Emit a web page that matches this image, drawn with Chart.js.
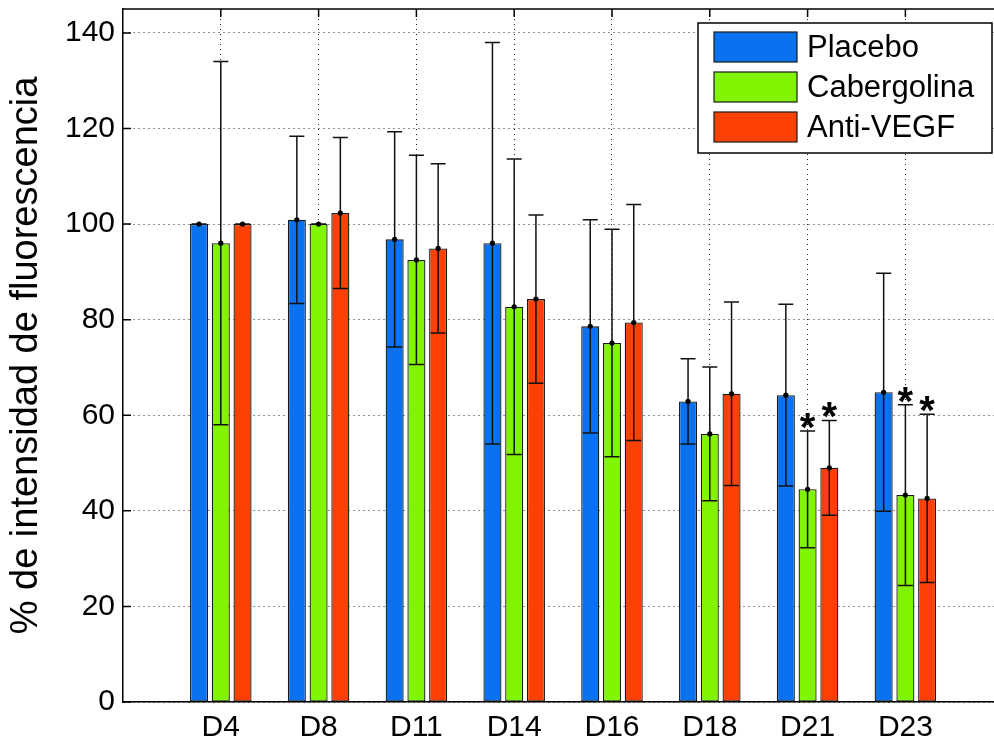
<!DOCTYPE html>
<html>
<head>
<meta charset="utf-8">
<script src="https://cdn.jsdelivr.net/npm/chart.js@4.4.1/dist/chart.umd.min.js"></script>
<style>
  html, body { margin: 0; padding: 0; background: #fff; overflow: hidden; }
  #wrap { position: relative; width: 994px; height: 742px; }
</style>
</head>
<body>
<div id="wrap"><canvas id="c"></canvas></div>
<script>
// Days of measurement
const categories = ['D4', 'D8', 'D11', 'D14', 'D16', 'D18', 'D21', 'D23'];

// Mean fluorescence intensity (%) and standard deviation per group
const placebo       = [100.0, 100.9, 96.8, 96.0, 78.6, 62.9, 64.2, 64.8];
const placeboSD     = [0.0, 17.5, 22.5, 42.0, 22.3, 8.9, 19.0, 24.9];
const cabergolina   = [96.0, 100.0, 92.5, 82.7, 75.1, 56.1, 44.5, 43.3];
const cabergolinaSD = [38.0, 0.0, 21.9, 30.9, 23.8, 14.0, 12.2, 18.9];
const antiVegf      = [100.0, 102.3, 94.9, 84.3, 79.4, 64.5, 49.0, 42.6];
const antiVegfSD    = [0.0, 15.8, 17.7, 17.6, 24.7, 19.2, 9.9, 17.6];

// Significant differences versus placebo (marked with *)
const placeboSig     = [0, 0, 0, 0, 0, 0, 0, 0];
const cabergolinaSig = [0, 0, 0, 0, 0, 0, 1, 1];
const antiVegfSig    = [0, 0, 0, 0, 0, 0, 1, 1];

// Y axis tick values
const yTicks = [0, 20, 40, 60, 80, 100, 120, 140];

const FONT = "'Liberation Sans', Arial, Helvetica, sans-serif";

function points(values) {
  return values.map((v, i) => ({ x: i + 1, y: v }));
}

// Whiskers with caps, a dot at the mean and significance stars
const errorBars = {
  id: 'errorBars',
  afterDatasetsDraw(chart) {
    const ctx = chart.ctx;
    const yScale = chart.scales.y;
    chart.data.datasets.forEach((ds, di) => {
      const meta = chart.getDatasetMeta(di);
      meta.data.forEach((bar, i) => {
        const m = ds.data[i].y;
        const e = ds.errors[i];
        const x = bar.x;
        const yTop = yScale.getPixelForValue(m + e);
        const yBot = yScale.getPixelForValue(m - e);
        const yMid = yScale.getPixelForValue(m);
        const cap = 7.5;
        ctx.save();
        ctx.strokeStyle = '#111';
        ctx.lineWidth = 1.5;
        ctx.beginPath();
        ctx.moveTo(x, yTop); ctx.lineTo(x, yBot);
        ctx.moveTo(x - cap, yTop); ctx.lineTo(x + cap, yTop);
        ctx.moveTo(x - cap, yBot); ctx.lineTo(x + cap, yBot);
        ctx.stroke();
        ctx.fillStyle = '#000';
        ctx.beginPath();
        ctx.arc(x, yMid, 2.6, 0, Math.PI * 2);
        ctx.fill();
        if (ds.significant[i]) {
          ctx.font = 'bold 40px ' + FONT;
          ctx.textAlign = 'center';
          ctx.textBaseline = 'alphabetic';
          ctx.fillText('*', x, yTop + 10);
        }
        ctx.restore();
      });
    });
  }
};

// Top frame line, inward tick marks and the boxed legend
const frameAndLegend = {
  id: 'frameAndLegend',
  afterDraw(chart) {
    const ctx = chart.ctx;
    const area = chart.chartArea;
    const xs = chart.scales.x, ys = chart.scales.y;
    ctx.save();
    ctx.strokeStyle = '#000';
    ctx.lineWidth = 1.5;
    ctx.beginPath();
    ctx.moveTo(area.left, area.top);
    ctx.lineTo(area.right, area.top);
    xs.ticks.forEach(t => {
      const px = xs.getPixelForValue(t.value);
      ctx.moveTo(px, area.top);
      ctx.lineTo(px, area.top + 8);
    });
    ys.ticks.forEach(t => {
      const py = ys.getPixelForValue(t.value);
      ctx.moveTo(area.left, py);
      ctx.lineTo(area.left + 8, py);
    });
    ctx.stroke();

    // legend
    const bx = 698, by = 23, bw = 294, bh = 130;
    ctx.fillStyle = '#fff';
    ctx.fillRect(bx, by, bw, bh);
    ctx.lineWidth = 1.5;
    ctx.strokeStyle = '#000';
    ctx.strokeRect(bx, by, bw, bh);
    chart.data.datasets.forEach((ds, i) => {
      const sy = 32 + i * 40;
      ctx.fillStyle = ds.backgroundColor;
      ctx.fillRect(714, sy, 83, 30);
      ctx.lineWidth = 1.2;
      ctx.strokeStyle = '#1a1a1a';
      ctx.strokeRect(714, sy, 83, 30);
      ctx.fillStyle = '#000';
      ctx.font = '31px ' + FONT;
      ctx.textAlign = 'left';
      ctx.textBaseline = 'middle';
      ctx.fillText(ds.label, 807, sy + 16);
    });
    ctx.restore();
  }
};

const barStyle = { borderColor: '#1a1a1a', borderWidth: 1.3, borderSkipped: false,
                   categoryPercentage: 0.667, barPercentage: 0.83 };

new Chart(document.getElementById('c'), {
  type: 'bar',
  data: {
    datasets: [
      Object.assign({ label: 'Placebo', data: points(placebo), errors: placeboSD,
        significant: placeboSig, backgroundColor: '#0a72ee' }, barStyle),
      Object.assign({ label: 'Cabergolina', data: points(cabergolina), errors: cabergolinaSD,
        significant: cabergolinaSig, backgroundColor: '#80f400' }, barStyle),
      Object.assign({ label: 'Anti-VEGF', data: points(antiVegf), errors: antiVegfSD,
        significant: antiVegfSig, backgroundColor: '#fc4006' }, barStyle)
    ]
  },
  options: {
    responsive: true,
    maintainAspectRatio: false,
    animation: false,
    layout: { padding: { top: 9, left: 0, right: 0, bottom: 0 } },
    plugins: { legend: { display: false }, tooltip: { enabled: false } },
    scales: {
      x: {
        type: 'linear',
        offset: false,
        min: 0,
        max: 8.906,
        afterBuildTicks: s => { s.ticks = categories.map((c, i) => ({ value: i + 1 })); },
        afterFit: s => { s.height = 40; s.paddingLeft = 0; s.paddingRight = 0; },
        ticks: {
          callback: v => categories[v - 1],
          font: { family: FONT, size: 30 },
          color: '#000',
          padding: 8,
          maxRotation: 0,
          autoSkip: false
        },
        grid: { color: '#222', lineWidth: 1, drawTicks: false, offset: false },
        border: { display: true, color: '#000', width: 1.5, dash: [1, 4] }
      },
      y: {
        min: 0,
        max: 145,
        afterBuildTicks: s => { s.ticks = yTicks.map(v => ({ value: v })); },
        afterFit: s => { s.width = 123; s.paddingTop = 0; s.paddingBottom = 0; },
        ticks: {
          font: { family: FONT, size: 30 },
          color: '#000',
          padding: 8
        },
        grid: { color: '#222', lineWidth: 1, drawTicks: false },
        border: { display: true, color: '#000', width: 1.5, dash: [1, 4] },
        title: {
          display: true,
          text: '% de intensidad de fluorescencia',
          font: { family: FONT, size: 38 },
          color: '#000',
          padding: { top: 4, bottom: 0 }
        }
      }
    }
  },
  plugins: [errorBars, frameAndLegend]
});
</script>
</body>
</html>
